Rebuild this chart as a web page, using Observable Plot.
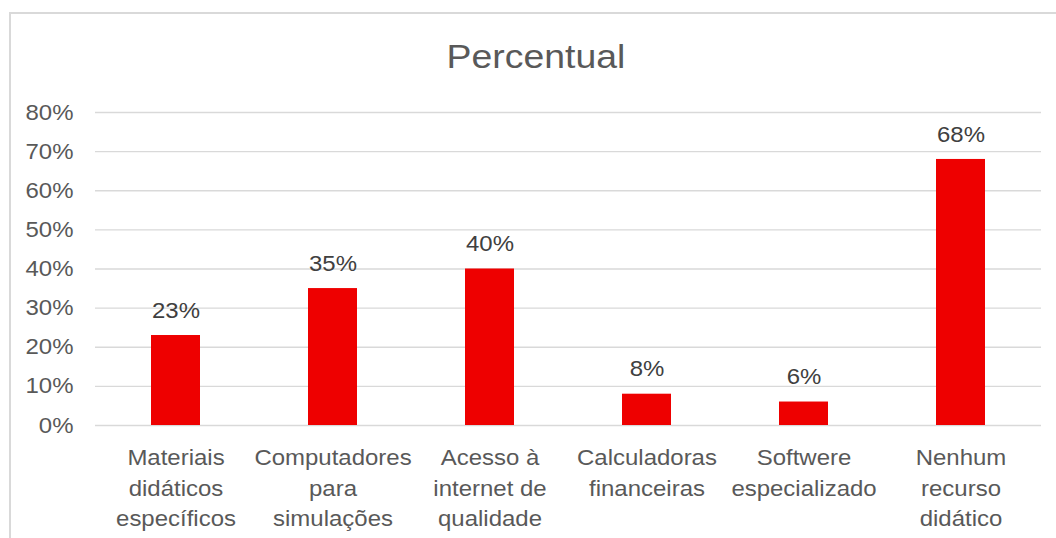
<!DOCTYPE html>
<html>
<head>
<meta charset="utf-8">
<script src="https://cdn.jsdelivr.net/npm/d3@7"></script>
<script src="https://cdn.jsdelivr.net/npm/@observablehq/plot@0.6"></script>
<style>
  html, body { margin: 0; padding: 0; background: #fff; }
  body { width: 1056px; height: 538px; position: relative; overflow: hidden; font-family: "Liberation Sans", Arial, sans-serif; }
  #frame { position: absolute; left: 9px; top: 12px; right: -4px; bottom: -4px; border-left: 2px solid #d9d9d9; border-top: 2px solid #d9d9d9; }
  #title { position: absolute; left: 8px; width: 1056px; top: 39px; text-align: center; font-size: 34px; line-height: 34px; color: #595959; transform: scaleX(1.1); transform-origin: 528px 0; }
  #chart { position: absolute; left: 0; top: 0; }
</style>
</head>
<body>
<div id="frame"></div>
<div id="chart"></div>
<div id="title">Percentual</div>
<script>
const categories = ["Materiais didáticos específicos", "Computadores para simulações", "Acesso à internet de qualidade", "Calculadoras financeiras", "Softwere especializado", "Nenhum recurso didático"];
const tickLabels = ["Materiais\ndidáticos\nespecíficos", "Computadores\npara\nsimulações", "Acesso à\ninternet de\nqualidade", "Calculadoras\nfinanceiras", "Softwere\nespecializado", "Nenhum\nrecurso\ndidático"];
const values = [0.23, 0.35, 0.40, 0.08, 0.06, 0.68];
const yTicks = [0, 0.1, 0.2, 0.3, 0.4, 0.5, 0.6, 0.7, 0.8];

const data = categories.map((c, i) => ({category: c, value: values[i]}));
const labelOf = new Map(categories.map((c, i) => [c, tickLabels[i]]));
const pct = d3.format(".0%");

const chart = Plot.plot({
  width: 1056,
  height: 538,
  marginTop: 112,
  marginBottom: 113,
  marginLeft: 95,
  marginRight: 15,
  style: { fontFamily: "'Liberation Sans', Arial, sans-serif", fontSize: "22px", color: "#595959", background: "transparent", overflow: "visible" },
  x: { domain: categories, paddingInner: 0.686, paddingOuter: 0.343 },
  y: { domain: [0, 0.8] },
  marks: [
    Plot.gridY(yTicks, { stroke: "#d9d9d9", strokeOpacity: 1, strokeWidth: 1.4 }),
    Plot.barY(data, { x: "category", y: "value", fill: "#ee0000" }),
    Plot.text(data, { x: "category", y: "value", text: d => pct(d.value), dy: -25, fill: "#404040", fontSize: 22 }),
    Plot.axisY(yTicks, { tickSize: 0, tickPadding: 22, tickFormat: pct, label: null, fill: "#595959", fontSize: 22 }),
    Plot.axisX({ tickSize: 0, tickPadding: 18, tickFormat: d => labelOf.get(d), label: null, lineAnchor: "top", lineHeight: 1.39, fill: "#595959", fontSize: 22 })
  ]
});

// widen glyphs slightly to match the reference's horizontally stretched text
const S = 1.09;
chart.querySelectorAll("text").forEach(t => {
  const tr = t.getAttribute("transform");
  if (tr) {
    t.setAttribute("transform", tr + ` scale(${S},1)`);
  } else {
    const x = +(t.getAttribute("x") || 0);
    t.setAttribute("transform", `translate(${x},0) scale(${S},1) translate(${-x},0)`);
  }
});
document.getElementById("chart").appendChild(chart);
</script>
</body>
</html>
